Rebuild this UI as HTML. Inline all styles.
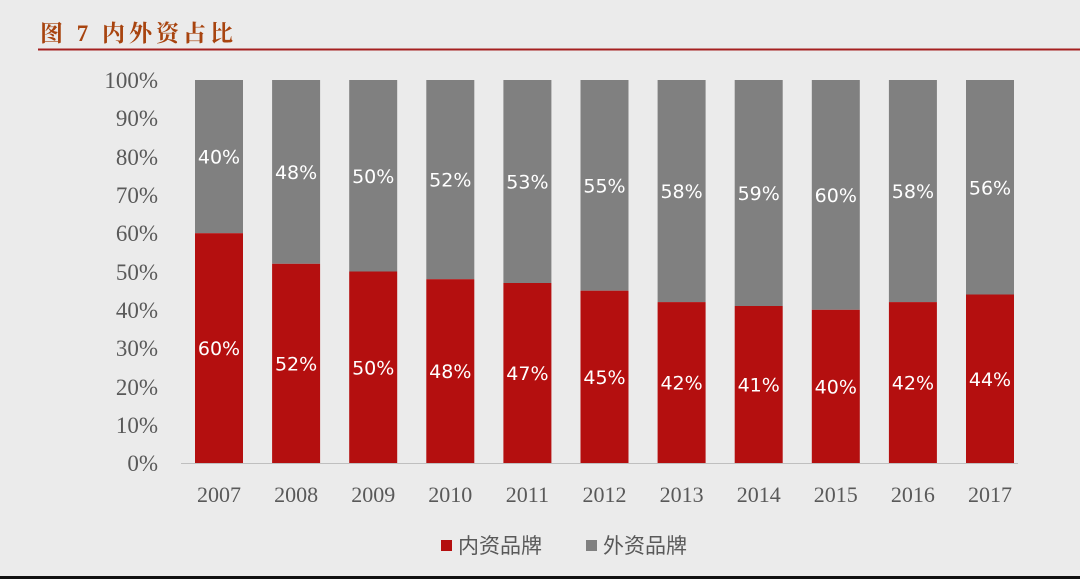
<!DOCTYPE html>
<html><head><meta charset="utf-8"><style>
html,body{margin:0;padding:0;background:#ebebeb;}
svg{display:block}
</style></head><body>
<svg width="1080" height="579" xmlns="http://www.w3.org/2000/svg">
<rect width="1080" height="579" fill="#ebebeb"/>
<text x="40" y="41" font-family="'Liberation Serif','Noto Serif CJK SC',serif" font-weight="bold" font-size="23" fill="#a8440f" letter-spacing="4">图 7 内外资占比</text>
<rect x="38" y="48.5" width="1042" height="2" fill="#a52020"/>
<rect x="0" y="576" width="1080" height="3" fill="#111"/>
<g font-family="'Liberation Serif',serif" font-size="23" fill="#595959" text-anchor="end">
<text x="158" y="88">100%</text><text x="158" y="126">90%</text><text x="158" y="165">80%</text><text x="158" y="203">70%</text><text x="158" y="241">60%</text><text x="158" y="280">50%</text><text x="158" y="318">40%</text><text x="158" y="356">30%</text><text x="158" y="395">20%</text><text x="158" y="433">10%</text><text x="158" y="471">0%</text>
</g>
<g fill="#808080">
<rect x="195" y="80" width="48" height="153.2"/>
<rect x="272.1" y="80" width="48" height="183.8"/>
<rect x="349.2" y="80" width="48" height="191.5"/>
<rect x="426.3" y="80" width="48" height="199.2"/>
<rect x="503.4" y="80" width="48" height="203"/>
<rect x="580.5" y="80" width="48" height="210.7"/>
<rect x="657.6" y="80" width="48" height="222.1"/>
<rect x="734.7" y="80" width="48" height="226"/>
<rect x="811.8" y="80" width="48" height="229.8"/>
<rect x="888.9" y="80" width="48" height="222.1"/>
<rect x="966" y="80" width="48" height="214.5"/>
</g>
<g fill="#b40f0f">
<rect x="195" y="233.2" width="48" height="229.8"/>
<rect x="272.1" y="263.8" width="48" height="199.2"/>
<rect x="349.2" y="271.5" width="48" height="191.5"/>
<rect x="426.3" y="279.2" width="48" height="183.8"/>
<rect x="503.4" y="283" width="48" height="180"/>
<rect x="580.5" y="290.7" width="48" height="172.3"/>
<rect x="657.6" y="302.1" width="48" height="160.9"/>
<rect x="734.7" y="306" width="48" height="157"/>
<rect x="811.8" y="309.8" width="48" height="153.2"/>
<rect x="888.9" y="302.1" width="48" height="160.9"/>
<rect x="966" y="294.5" width="48" height="168.5"/>
</g>
<line x1="181" y1="463.5" x2="1018" y2="463.5" stroke="#bfbfbf" stroke-width="1"/>
<g font-family="'DejaVu Sans',sans-serif" font-size="19" fill="#fff" text-anchor="middle">
<text x="219" y="355.1">60%</text><text x="219" y="163.6">40%</text>
<text x="296.1" y="370.4">52%</text><text x="296.1" y="178.9">48%</text>
<text x="373.2" y="374.3">50%</text><text x="373.2" y="182.8">50%</text>
<text x="450.3" y="378.1">48%</text><text x="450.3" y="186.6">52%</text>
<text x="527.4" y="380">47%</text><text x="527.4" y="188.5">53%</text>
<text x="604.5" y="383.9">45%</text><text x="604.5" y="192.4">55%</text>
<text x="681.6" y="389.6">42%</text><text x="681.6" y="198.1">58%</text>
<text x="758.7" y="391.5">41%</text><text x="758.7" y="200">59%</text>
<text x="835.8" y="393.4">40%</text><text x="835.8" y="201.9">60%</text>
<text x="912.9" y="389.6">42%</text><text x="912.9" y="198.1">58%</text>
<text x="990" y="385.8">44%</text><text x="990" y="194.3">56%</text>
</g>
<g font-family="'Liberation Serif',serif" font-size="22" fill="#595959" text-anchor="middle">
<text x="219" y="502">2007</text><text x="296.1" y="502">2008</text><text x="373.2" y="502">2009</text><text x="450.3" y="502">2010</text><text x="527.4" y="502">2011</text><text x="604.5" y="502">2012</text><text x="681.6" y="502">2013</text><text x="758.7" y="502">2014</text><text x="835.8" y="502">2015</text><text x="912.9" y="502">2016</text><text x="990" y="502">2017</text>
</g>
<rect x="441" y="540" width="11" height="11" fill="#b40f0f"/>
<text x="458" y="553" font-family="'Liberation Sans','Noto Sans CJK SC',sans-serif" font-size="21" fill="#595959">内资品牌</text>
<rect x="586" y="540" width="11" height="11" fill="#808080"/>
<text x="603" y="553" font-family="'Liberation Sans','Noto Sans CJK SC',sans-serif" font-size="21" fill="#595959">外资品牌</text>
</svg>
</body></html>
